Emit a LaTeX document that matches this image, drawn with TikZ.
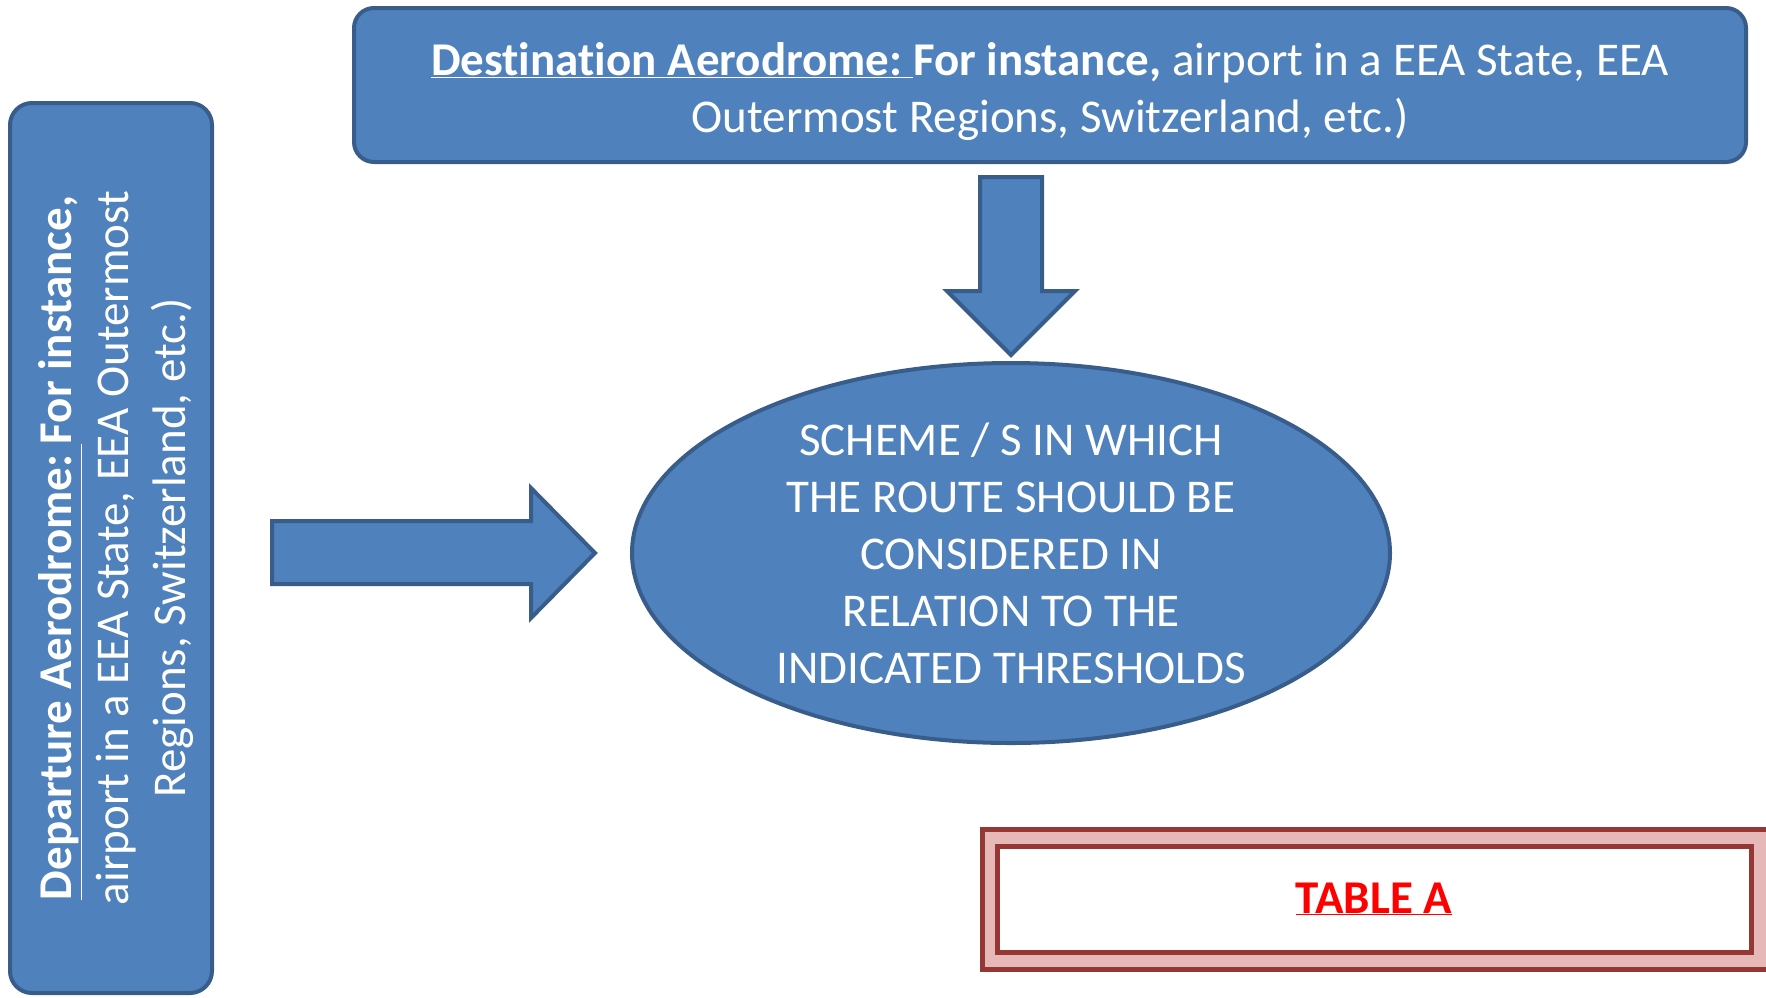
\documentclass[tikz,border=0pt]{standalone}
\usepackage{fontspec}
\setmainfont[Ligatures=NoCommon]{Carlito}
\usepackage{xcolor}
\usepackage{tikz}
\usetikzlibrary{positioning,%
  shapes.geometric,%
  calc
}

\definecolor{boxblue}{HTML}{4F81BD}
\definecolor{boxedge}{HTML}{385D8A}
\definecolor{framered}{HTML}{953735}
\definecolor{framepink}{HTML}{E6B9B8}

\begin{document}
\begin{tikzpicture}
            [
                x=1pt, y=-1pt,
                bluebox/.style={draw=boxedge, fill=boxblue, line width=4pt,
                    text=white, align=center, inner sep=0pt,
                    font=\fontsize{47}{57}\selectfont},
                blockarrow/.style={draw=boxedge, fill=boxblue, line width=4pt,
                    line join=miter}
            ]

            \clip (0,0) rectangle (1766,997);

            \node[bluebox, rounded corners=20pt, minimum width=1392pt,
                minimum height=154pt] (destination) at (1050,85)
                {\rule{0pt}{46pt}\textbf{\underline{Destination Aerodrome:\ }For instance,} airport in a EEA State, EEA\\
                 Outermost Regions, Switzerland, etc.)};

            \node[bluebox, rounded corners=22pt, minimum width=890pt,
                minimum height=202pt, rotate=90] (departure) at (111,548)
                {\rule{0pt}{44pt}\textbf{\underline{Departure Aerodrome:\ }For instance,}\\
                 airport in a EEA State, EEA Outermost\\
                 Regions, Switzerland, etc.)};

            \node[bluebox, ellipse, minimum width=758pt, minimum height=380pt]
                (scheme) at (1011,553)
                {SCHEME / S IN WHICH\\ THE ROUTE SHOULD BE\\ CONSIDERED IN\\
                 RELATION TO THE\\ INDICATED THRESHOLDS};

            \draw[blockarrow] (272,521) -- (531,521) -- (531,488) -- (595,553)
                -- (531,618) -- (531,584) -- (272,584) -- cycle;
            \draw[blockarrow] (980,177) -- (1042,177) -- (1042,291) -- (1075,291)
                -- (1011,355) -- (947,291) -- (980,291) -- cycle;

            \node[draw=framered, fill=framepink, line width=4.5pt,
                minimum width=830pt, minimum height=140pt, anchor=north west]
                (tableframe) at (980,827) {};
            \node[draw=framered, fill=white, line width=5pt, minimum width=754pt,
                minimum height=106pt, text=red,
                font=\fontsize{47}{57}\selectfont\bfseries] (tablea) at (1374,899)
                {\underline{TABLE A}};
        \end{tikzpicture}
\end{document}
